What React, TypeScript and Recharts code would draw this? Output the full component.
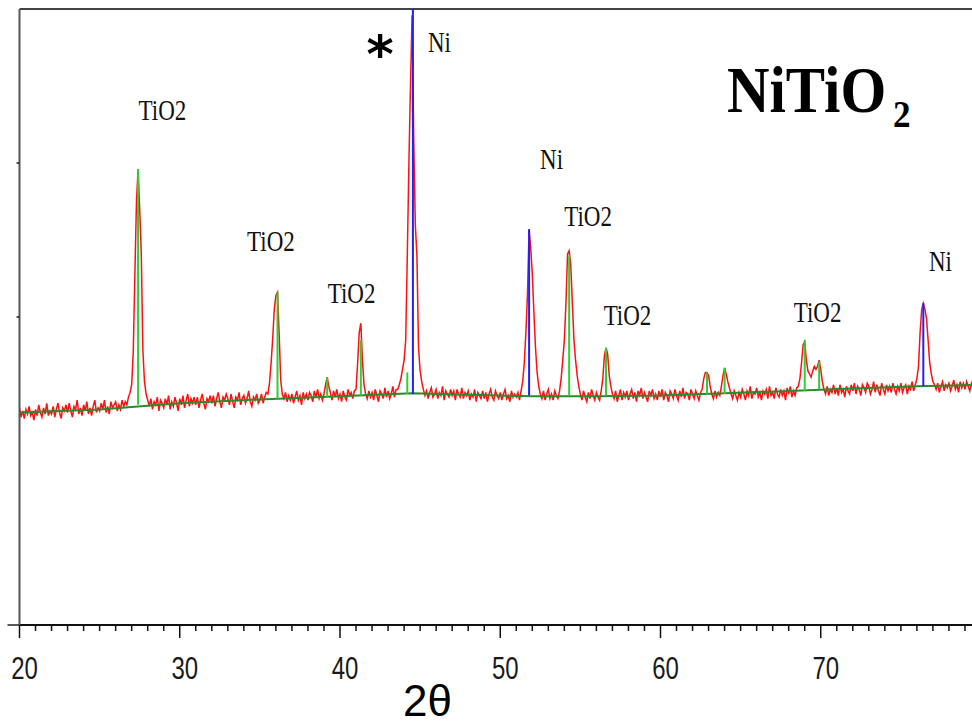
import React from 'react';
import { LineChart, Line, XAxis, YAxis, ReferenceLine, ReferenceDot } from 'recharts';

// Measured intensity (arbitrary units), 2θ = 20.0 … 80.0 in 0.1° steps, one row per degree
const scanStart = 20;
const scanStep = 0.1;
const intensity: number[] = [
  141,135,139,134,140,137,142,136,138,133,
  140,136,143,138,135,141,137,144,136,139,
  137,142,135,140,144,138,134,141,139,143,
  138,144,139,135,142,140,146,137,141,136,
  143,139,145,137,141,136,142,146,138,141,
  139,144,140,146,138,142,137,145,141,143,
  145,139,143,140,146,142,145,143,148,151,
  156,178,228,275,296,270,241,178,158,150,
  146,142,147,140,145,143,148,139,146,144,
  141,147,143,149,140,145,142,148,144,139,
  147,143,149,141,146,150,142,147,144,148,
  143,148,141,146,150,144,140,147,145,149,
  144,149,142,147,151,145,141,148,146,150,
  147,143,150,145,141,148,146,151,143,147,
  149,144,147,152,145,142,148,146,150,144,
  146,150,144,148,151,150,157,170,186,205,
  214,216,190,159,150,147,151,145,149,146,
  150,144,148,152,146,149,143,151,147,150,
  146,151,149,145,152,148,153,147,150,146,
  150,156,161,155,151,146,152,148,153,147,
  150,145,152,148,146,153,149,151,147,152,
  153,170,190,196,172,156,150,147,152,148,
  151,146,153,149,145,152,150,147,154,148,
  152,147,150,155,148,153,153,156,160,166,
  172,185,240,300,351,396,316,260,240,180,
  165,158,153,149,152,147,151,154,148,150,
  153,147,151,149,155,146,152,150,148,153,
  149,152,146,153,150,148,154,147,151,149,
  152,146,150,148,153,145,151,149,147,152,
  147,151,145,150,153,148,146,152,149,147,
  151,146,150,153,147,149,145,152,148,150,
  148,151,146,152,158,170,190,215,257,245,
  228,203,180,164,155,150,147,152,146,150,
  153,147,150,146,152,149,147,152,160,172,
  185,209,241,243,234,209,185,172,162,155,
  150,146,152,148,145,151,147,153,149,146,
  151,148,146,152,160,175,180,176,162,155,
  150,147,152,145,149,153,146,151,148,152,
  146,150,153,147,151,145,152,149,154,147,
  151,148,145,152,149,153,147,150,146,152,
  148,153,146,151,149,145,152,150,147,153,
  149,146,152,148,154,147,151,150,146,153,
  150,147,152,149,146,151,153,160,164,164,
  162,155,150,147,152,148,151,149,155,162,
  167,163,158,154,150,147,152,149,146,151,
  148,153,150,146,152,149,155,147,151,150,
  154,148,151,146,152,150,153,147,155,149,
  151,147,154,150,148,153,149,152,146,154,
  150,155,148,152,149,154,155,160,170,182,
  184,172,165,163,161,165,168,166,168,172,
  166,158,153,150,155,149,153,151,156,150,
  154,149,156,151,153,148,155,152,150,156,
  152,157,150,155,153,149,156,154,151,157,
  155,150,153,158,151,156,152,149,157,153,
  150,156,152,155,151,157,153,150,155,152,
  157,151,154,156,150,155,153,158,152,156,
  160,168,190,205,209,205,199,185,170,163,
  158,156,153,157,151,155,158,152,156,154,
  157,152,155,159,153,156,151,158,154,157,
  153,158,155,152,157,154,159,153,156,155,
  157,
];

// Fitted background (green)
const backgroundX = [20, 25, 30, 35, 40, 44.5, 48, 52, 56, 60, 64, 68, 72, 76, 80];
const backgroundY = [138, 140, 144, 146.5, 148.5, 150.5, 149.5, 148.5, 148.5, 149, 150.5, 152, 153.5, 155, 156];

// Reference sticks
const tio2StickX = [27.4, 36.1, 39.2, 41.3, 44.2, 54.3, 56.6, 62.9, 64.0, 69.0, 69.9];
const tio2StickBase = [143, 147, 148, 149, 150, 149, 149, 150, 150, 152, 153];
const tio2StickTop = [296, 216, 161, 185, 164, 240, 180, 164, 167, 185, 171];
const niStickX = [44.55, 51.8, 76.4];
const niStickBase = [150, 149, 155];
const niStickTop = [400, 257, 209];

// Peak annotations
const peakLabelText = ['TiO2', 'TiO2', 'TiO2', 'Ni', 'Ni', 'TiO2', 'TiO2', 'TiO2', 'Ni'];
const peakLabelX = [28.92, 35.69, 40.72, 46.21, 53.2, 55.48, 57.94, 69.8, 77.47];
const peakLabelY = [328, 243, 209, 372, 296, 259, 195, 197, 230];

// Axis ticks
const xMajorTicks = [20, 30, 40, 50, 60, 70];
const xMinorTicks = [
  21, 22, 23, 24, 25, 26, 27, 28, 29, 31, 32, 33, 34, 35, 36, 37, 38, 39,
  41, 42, 43, 44, 45, 46, 47, 48, 49, 51, 52, 53, 54, 55, 56, 57, 58, 59,
  61, 62, 63, 64, 65, 66, 67, 68, 69, 71, 72, 73, 74, 75, 76, 77, 78, 79,
];
const yTicks = [0, 200, 300];

const scan = intensity.map((v, k) => ({ x: Math.round((scanStart + k * scanStep) * 10) / 10, i: v }));
const background = backgroundX.map((x, k) => ({ x, b: backgroundY[k] }));
const xTicks = [...xMajorTicks, ...xMinorTicks].sort((a, b) => a - b);

const XTick = (props: any) => {
  const { x, y, payload } = props;
  const v = payload.value;
  const major = xMajorTicks.includes(v);
  return (
    <g>
      <line x1={x} y1={y} x2={x} y2={y + (major ? 13 : 6)} stroke="#111" strokeWidth={1.5} />
      {major && (
        <g transform={`translate(${x + 5},${y + 54}) scale(1,1.33)`}>
          <text textAnchor="middle" fontFamily="Liberation Sans, Arial, sans-serif" fontSize={24} fill="#1a1a1a">
            {v}
          </text>
        </g>
      )}
    </g>
  );
};

const YTick = (props: any) => {
  const { x, y, payload } = props;
  const len = payload.value === 0 ? 12 : 3;
  return <line x1={x - len} y1={y} x2={x} y2={y} stroke="#222" strokeWidth={1.5} />;
};

const PeakLabel = (text: string) => (props: any) => {
  const { cx, cy } = props;
  return (
    <g transform={`translate(${cx},${cy}) scale(1,1.25)`}>
      <text textAnchor="middle" fontFamily="Liberation Serif, Times New Roman, serif" fontSize={23} fill="#111">
        {text}
      </text>
    </g>
  );
};

export default function App() {
  return (
    <div style={{ position: 'absolute', left: 0, top: 0, width: 972, height: 727, overflow: 'hidden', background: '#fff' }}>
      <LineChart width={1000} height={727} margin={{ top: 9, right: 19, bottom: 0, left: 0 }}>
        <XAxis
          dataKey="x"
          type="number"
          domain={[20, 80]}
          allowDataOverflow
          ticks={xTicks}
          interval={0}
          height={102}
          tickSize={0}
          tickMargin={0}
          tick={<XTick />}
          tickLine={false}
          axisLine={{ stroke: '#111', strokeWidth: 2 }}
        />
        <YAxis
          type="number"
          domain={[0, 400]}
          allowDataOverflow
          ticks={yTicks}
          width={19.5}
          tickSize={0}
          tickMargin={0}
          tick={<YTick />}
          tickLine={false}
          axisLine={{ stroke: '#555', strokeWidth: 2 }}
        />
        <ReferenceLine y={400} stroke="#444" strokeWidth={2} />
        <Line data={scan} dataKey="i" type="linear" stroke="#ff1010" strokeWidth={1.5} dot={false} isAnimationActive={false} />
        <Line data={background} dataKey="b" type="linear" stroke="#2a8a2a" strokeWidth={2} dot={false} isAnimationActive={false} />
        {tio2StickX.map((x, k) => (
          <ReferenceLine
            key={'t' + k}
            segment={[{ x, y: tio2StickBase[k] }, { x, y: tio2StickTop[k] }]}
            stroke="#33cc33"
            strokeWidth={2}
          />
        ))}
        {niStickX.map((x, k) => (
          <ReferenceLine
            key={'n' + k}
            segment={[{ x, y: niStickBase[k] }, { x, y: niStickTop[k] }]}
            stroke="#2020ff"
            strokeWidth={2}
          />
        ))}
        {peakLabelText.map((t, k) => (
          <ReferenceDot key={'l' + k} x={peakLabelX[k]} y={peakLabelY[k]} r={0} shape={PeakLabel(t)} />
        ))}
      </LineChart>
      <svg width={972} height={727} style={{ position: 'absolute', left: 0, top: 0, pointerEvents: 'none' }}>
        <text x={380} y={72} textAnchor="middle" fontFamily="DejaVu Sans, sans-serif" fontWeight="bold" fontSize={52} fill="#000">*</text>
        <g transform="translate(727,112) scale(0.92,1.04)">
          <text x={0} y={0} fontFamily="Liberation Serif, Times New Roman, serif" fontWeight="bold" fontSize={64} fill="#000">
            NiTiO
          </text>
        </g>
        <g transform="translate(893,127) scale(0.95,1)">
          <text x={0} y={0} fontFamily="Liberation Serif, Times New Roman, serif" fontWeight="bold" fontSize={37} fill="#000">
            2
          </text>
        </g>
        <text x={403} y={716} fontFamily="Liberation Sans, Arial, sans-serif" fontSize={44} fill="#000">2θ</text>
      </svg>
    </div>
  );
}
